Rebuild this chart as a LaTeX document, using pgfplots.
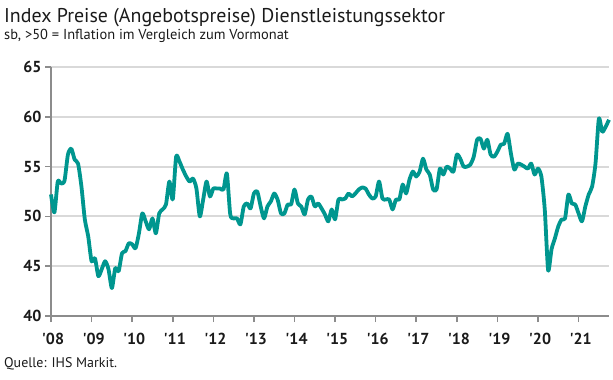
\documentclass[border=0pt]{standalone}
\usepackage{pgfplots}
\pgfplotsset{compat=1.18}
\usepackage{pgfplotstable}
\usepackage{fontspec}
\setmainfont{PT Sans}
\definecolor{lineteal}{HTML}{00968F}
\definecolor{gridgray}{HTML}{D9D9D9}
\definecolor{axgray}{HTML}{8C8C8C}
\definecolor{txt}{HTML}{1A1A1A}
\pgfplotstableread{
m v
0 52.2
1 50.4
2 53.5
3 53.3
4 53.6
5 56.2
6 56.8
7 55.7
8 55.3
9 53.0
10 49.7
11 48.0
12 45.5
13 45.8
14 44.0
15 44.7
16 45.5
17 44.7
18 42.8
19 44.8
20 44.5
21 46.3
22 46.5
23 47.3
24 47.2
25 46.8
26 48.3
27 50.3
28 49.5
29 48.7
30 49.8
31 48.3
32 50.3
33 50.7
34 51.2
35 53.5
36 51.7
37 56.0
38 55.5
39 54.7
40 54.0
41 53.5
42 53.8
43 52.8
44 50.0
45 51.7
46 53.5
47 52.0
48 52.8
49 52.8
50 52.8
51 52.7
52 54.3
53 50.2
54 49.8
55 49.8
56 49.2
57 51.0
58 51.3
59 50.8
60 52.3
61 52.5
62 51.0
63 49.8
64 51.0
65 51.5
66 52.3
67 51.7
68 50.3
69 50.3
70 51.2
71 51.2
72 52.7
73 51.3
74 51.0
75 50.2
76 51.7
77 52.0
78 51.0
79 51.3
80 50.8
81 50.2
82 49.5
83 50.7
84 49.7
85 51.7
86 51.7
87 51.8
88 52.3
89 52.0
90 52.3
91 52.7
92 52.9
93 52.8
94 52.2
95 51.8
96 52.0
97 53.5
98 51.8
99 51.7
100 51.7
101 50.7
102 51.7
103 51.7
104 53.2
105 52.3
106 53.7
107 54.5
108 54.0
109 54.5
110 55.8
111 54.7
112 54.2
113 52.7
114 52.7
115 54.8
116 54.2
117 55.0
118 54.8
119 54.5
120 56.2
121 55.8
122 55.0
123 55.0
124 55.2
125 56.0
126 57.7
127 57.8
128 56.8
129 57.7
130 56.2
131 56.0
132 56.5
133 57.2
134 57.3
135 58.3
136 56.3
137 54.7
138 55.3
139 55.2
140 55.0
141 54.8
142 55.3
143 54.2
144 54.8
145 54.0
146 50.7
147 44.6
148 46.7
149 47.8
150 49.0
151 49.7
152 49.8
153 52.2
154 51.3
155 51.2
156 50.3
157 49.5
158 51.0
159 52.2
160 53.0
161 55.3
162 59.8
163 58.5
164 59.0
165 59.7
}\datatable
\begin{document}
\begin{tikzpicture}[x=1bp,y=1bp]
\path[use as bounding box] (0,0) rectangle (613,379);
\node[anchor=base west, inner sep=0, text=txt, font=\fontsize{20}{20}\selectfont] at (4,357) {Index Preise (Angebotspreise) Dienstleistungssektor};
\node[anchor=base west, inner sep=0, text=txt, font=\fontsize{14.5}{14.5}\selectfont] at (4,340) {sb, >50 = Inflation im Vergleich zum Vormonat};
\node[anchor=base west, inner sep=0, text=txt, font=\fontsize{14}{14}\selectfont] at (4,12) {Quelle: IHS Markit.};
\begin{axis}[
  at={(51bp,63bp)}, anchor=south west,
  scale only axis, width=558bp, height=249bp,
  xmin=0, xmax=165, ymin=40, ymax=65,
  ytick={40,45,...,65},
  xtick={0,12,...,156},
  xticklabels={\textquotesingle08,\textquotesingle09,\textquotesingle10,\textquotesingle11,\textquotesingle12,\textquotesingle13,\textquotesingle14,\textquotesingle15,\textquotesingle16,\textquotesingle17,\textquotesingle18,\textquotesingle19,\textquotesingle20,\textquotesingle21},
  axis x line*=bottom, axis y line*=left,
  axis line style={axgray, line width=1.5bp},
  tick style={axgray, line width=1.5bp},
  major tick length=6bp, tick align=outside,
  ymajorgrids, grid style={gridgray, line width=2bp},
  /pgf/number format/assume math mode=true,
  ticklabel style={text=txt, font=\bfseries\fontsize{16}{16}\selectfont},
  xticklabel style={yshift=-8bp, xshift=2bp},
  clip=false,
]
\addplot[lineteal, line width=3.8bp, line join=round, smooth, tension=0.4] table[x=m, y=v] {\datatable};
\end{axis}
\end{tikzpicture}
\end{document}
